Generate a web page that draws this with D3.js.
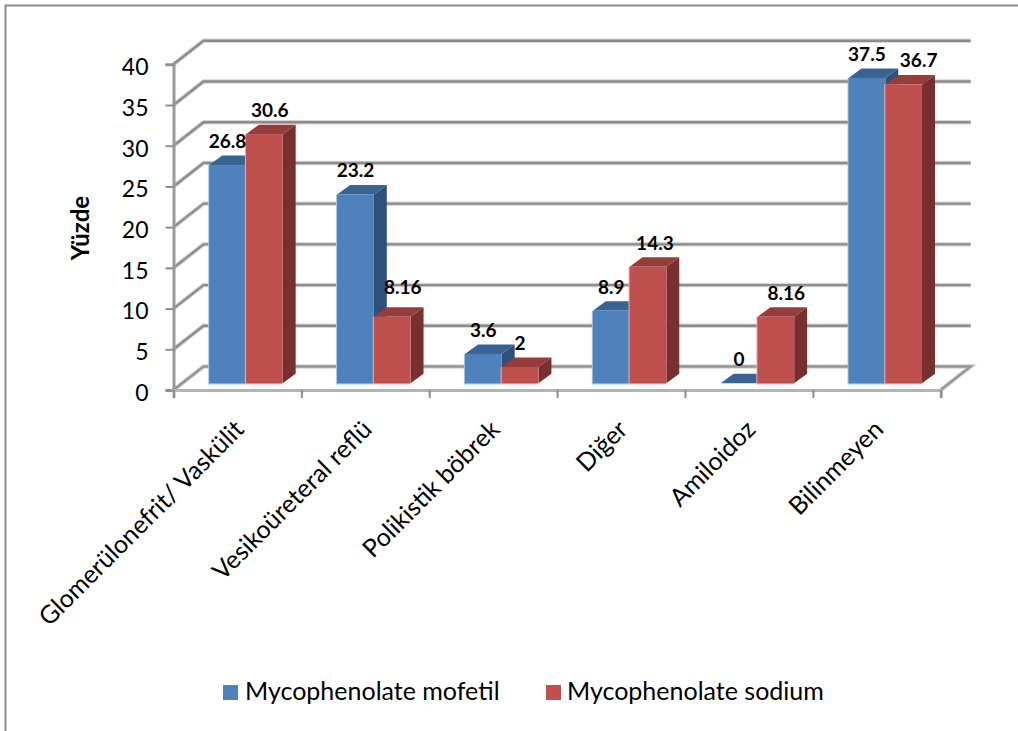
<!DOCTYPE html>
<html>
<head>
<meta charset="utf-8">
<script src="https://cdn.jsdelivr.net/npm/d3@7"></script>
<style>
html,body{margin:0;padding:0;background:#fff;}
svg{display:block;}
text{font-family:Lato,"Open Sans",sans-serif;fill:#000;}
</style>
</head>
<body>
<svg id="chart" width="1018" height="731"></svg>
<script>
const categories = ["Glomerülonefrit/ Vaskülit","Vesikoüreteral reflü","Polikistik böbrek","Diğer","Amiloidoz","Bilinmeyen"];
const seriesNames = ["Mycophenolate mofetil","Mycophenolate sodium"];
const mofetilValues = [26.8,23.2,3.6,8.9,0,37.5];
const sodiumValues = [30.6,8.16,2,14.3,8.16,36.7];
const yTicks = [0,5,10,15,20,25,30,35,40];

const seriesValues = [mofetilValues, sodiumValues];
const faceColors = [
  {front:"#4f81bd", top:"#3b6392", side:"#2f5079", edge:"#a9c3e2"},
  {front:"#c0504d", top:"#953d3a", side:"#78302f", edge:"#e3b5b3"}
];

const svg = d3.select("#chart");

// Outer chart frame (open at the right and bottom edges of the page)
svg.append("path")
  .attr("d","M5.5,731V5.5H1018")
  .attr("fill","none").attr("stroke","#8a8a8a").attr("stroke-width",2);

const plot = {left:173.5, right:940.7, bottom:390, top:64.3};
const wallDepth = {dx:30, dy:-23.5};   // floor/wall perspective offset
const barDepth = {dx:13, dy:-9.5};     // depth of each box
const barInset = {dx:8.5, dy:-6.7};    // boxes stand in the middle of the floor

const x0 = d3.scaleBand().domain(categories).range([plot.left,plot.right]);
const x1 = d3.scaleBand().domain(d3.range(seriesNames.length))
  .range([0,x0.step()]).paddingInner(0).paddingOuter(0.74);
const y = d3.scaleLinear().domain([0,40]).range([plot.bottom,plot.top]);

// Wall gridlines: soft halo below, solid line above, plus the slanted side-wall segment
const grid = svg.append("g").attr("fill","none");
const gridPath = v => {
  const yy = y(v);
  return `M${plot.left},${yy}L${plot.left+wallDepth.dx},${yy+wallDepth.dy}H${plot.right+wallDepth.dx}`;
};
grid.selectAll("path.halo").data(yTicks.slice(1)).join("path").attr("class","halo")
  .attr("d",gridPath).attr("stroke","#d8d8d8").attr("stroke-width",4.5);
grid.selectAll("path.line").data(yTicks.slice(1)).join("path").attr("class","line")
  .attr("d",gridPath).attr("stroke","#8c8c8c").attr("stroke-width",2.4);

// Floor outline
const floorBack = `M${plot.left},${plot.bottom}L${plot.left+wallDepth.dx},${plot.bottom+wallDepth.dy}H${plot.right+wallDepth.dx}L${plot.right},${plot.bottom}`;
svg.append("path").attr("d",floorBack).attr("fill","none").attr("stroke","#d8d8d8").attr("stroke-width",4.5);
svg.append("path").attr("d",floorBack).attr("fill","none").attr("stroke","#959595").attr("stroke-width",2.4);

// Axes
const axisY = d3.axisLeft(y).tickValues(yTicks).tickSize(8).tickPadding(17);
const gy = svg.append("g").attr("transform",`translate(${plot.left},0)`).call(axisY);
gy.selectAll("line").attr("stroke","#8c8c8c").attr("stroke-width",2);
gy.select(".domain").attr("stroke","#9a9a9a").attr("stroke-width",3);
gy.selectAll("text").attr("font-size",23).attr("font-family","Lato").attr("fill","#000").attr("dy","0.45em");

const tickPositions = d3.range(categories.length+1).map(i=>plot.left+i*x0.step());
const gx = svg.append("g").attr("transform",`translate(0,${plot.bottom})`)
  .call(d3.axisBottom(d3.scaleLinear().domain([plot.left,plot.right]).range([plot.left,plot.right]))
    .tickValues(tickPositions).tickSize(8).tickFormat(""));
gx.selectAll("line").attr("stroke","#8c8c8c").attr("stroke-width",2);
gx.select(".domain").attr("stroke","#b4b4b4").attr("stroke-width",3);

// 3D boxes: drawn category by category, series by series so later boxes overlap earlier ones
const barData = categories.flatMap(c => seriesNames.map((s,i)=>({
  cat:c, si:i, value:seriesValues[i][categories.indexOf(c)]
})));
const bars = svg.append("g").selectAll("g").data(barData).join("g");
const bx = d => x0(d.cat)+x1(d.si)+barInset.dx;
const bw = x1.bandwidth();
const base = y(0)+barInset.dy;
const topY = d => y(d.value)+barInset.dy;
bars.append("path").attr("fill",d=>faceColors[d.si].side)
  .attr("d",d=>`M${bx(d)+bw},${topY(d)}l${barDepth.dx},${barDepth.dy}V${base+barDepth.dy}l${-barDepth.dx},${-barDepth.dy}Z`);
bars.append("path").attr("fill",d=>faceColors[d.si].top)
  .attr("d",d=>`M${bx(d)},${topY(d)}l${barDepth.dx},${barDepth.dy}h${bw}l${-barDepth.dx},${-barDepth.dy}Z`);
// pale fringe along the front face's left and bottom edges
bars.filter(d=>d.value>0).append("rect").attr("fill",d=>faceColors[d.si].edge)
  .attr("x",d=>bx(d)-1).attr("y",topY).attr("width",bw+1).attr("height",d=>base-topY(d)+1.2);
bars.append("rect").attr("fill",d=>faceColors[d.si].front)
  .attr("x",bx).attr("y",topY).attr("width",bw).attr("height",d=>base-topY(d));

// Value labels, nudged where the chart's automatic placement shifted them
const labelNudge = {"30.6":5.5,"8.16":10.5,"36.7":15,"14.3":7};
svg.append("g").selectAll("text").data(barData).join("text")
  .attr("x",d=>bx(d)+bw/2+(labelNudge[d.value]||0))
  .attr("y",d=>topY(d)-(d.value===8.16&&d.cat===categories[1]?23:17))
  .attr("text-anchor","middle").attr("font-size",19).attr("font-weight",700)
  .text(d=>d.value);

// Rotated category labels
svg.append("g").selectAll("text").data(categories).join("text")
  .attr("transform",c=>`translate(${x0(c)+x0.bandwidth()/2+8},${plot.bottom+41}) rotate(-45)`)
  .attr("text-anchor","end").attr("font-size",25)
  .text(c=>c);

// Value-axis title
svg.append("text").attr("transform","translate(89,228) rotate(-90)")
  .attr("text-anchor","middle").attr("font-size",24).attr("font-weight",700).text("Yüzde");

// Legend
const legendX = d3.scaleOrdinal().domain(seriesNames).range([223,546]);
const legend = svg.append("g").selectAll("g").data(seriesNames).join("g")
  .attr("transform",s=>`translate(${legendX(s)},685)`);
legend.append("rect").attr("width",15).attr("height",15).attr("fill",(s,i)=>faceColors[i].front);
legend.append("text").attr("x",(s,i)=>22-i).attr("y",14.5).attr("font-size",25).text(s=>s);
</script>
</body>
</html>
